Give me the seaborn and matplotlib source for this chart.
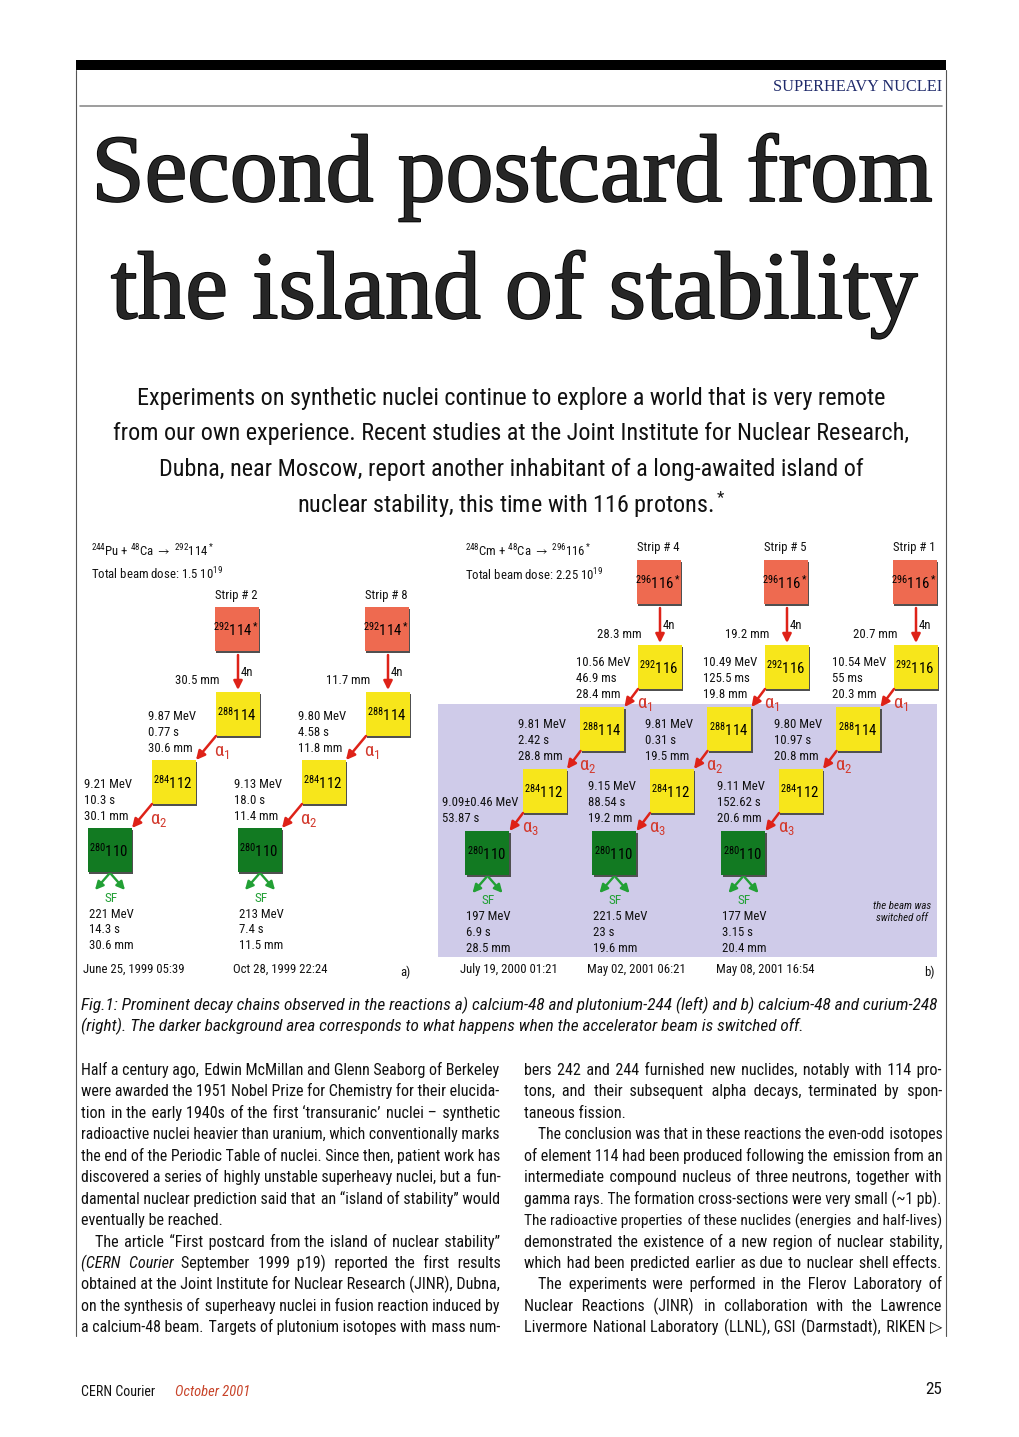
import numpy as np
import pandas as pd
import matplotlib
matplotlib.use('Agg')
import matplotlib.pyplot as plt
import matplotlib.patheffects as pe
from matplotlib.patches import Rectangle
from matplotlib import font_manager
from matplotlib.ft2font import FT2Font
import seaborn as sns

# ---------------- page text ----------------
section = 'SUPERHEAVY NUCLEI'
title = ['Second postcard from', 'the island of stability']
standfirst = [
    'Experiments on synthetic nuclei continue to explore a world that is very remote',
    'from our own experience. Recent studies at the Joint Institute for Nuclear Research,',
    'Dubna, near Moscow, report another inhabitant of a long-awaited island of',
    'nuclear stability, this time with 116 protons.$^*$',
]
caption = [
    'Fig.1: Prominent decay chains observed in the reactions a) calcium-48 and plutonium-244 (left) and b) calcium-48 and curium-248',
    '(right). The darker background area corresponds to what happens when the accelerator beam is switched off.',
]
# (line, mode): j = justified, l = left, i = indented first line; "_" marks italic words
left_col = [
    ('Half a century ago, Edwin McMillan and Glenn Seaborg of Berkeley', 'j'),
    ('were awarded the 1951 Nobel Prize for Chemistry for their elucida-', 'j'),
    ('tion in the early 1940s of the first ‘transuranic’ nuclei – synthetic', 'j'),
    ('radioactive nuclei heavier than uranium, which conventionally marks', 'j'),
    ('the end of the Periodic Table of nuclei. Since then, patient work has', 'j'),
    ('discovered a series of highly unstable superheavy nuclei, but a fun-', 'j'),
    ('damental nuclear prediction said that an “island of stability” would', 'j'),
    ('eventually be reached.', 'l'),
    ('The article “First postcard from the island of nuclear stability”', 'ij'),
    ('_(CERN _Courier September 1999 p19) reported the first results', 'j'),
    ('obtained at the Joint Institute for Nuclear Research (JINR), Dubna,', 'j'),
    ('on the synthesis of superheavy nuclei in fusion reaction induced by', 'j'),
    ('a calcium-48 beam. Targets of plutonium isotopes with mass num-', 'j'),
]
right_col = [
    ('bers 242 and 244 furnished new nuclides, notably with 114 pro-', 'j'),
    ('tons, and their subsequent alpha decays, terminated by spon-', 'j'),
    ('taneous fission.', 'l'),
    ('The conclusion was that in these reactions the even-odd isotopes', 'ij'),
    ('of element 114 had been produced following the emission from an', 'j'),
    ('intermediate compound nucleus of three neutrons, together with', 'j'),
    ('gamma rays. The formation cross-sections were very small (~1 pb).', 'j'),
    ('The radioactive properties of these nuclides (energies and half-lives)', 'j'),
    ('demonstrated the existence of a new region of nuclear stability,', 'j'),
    ('which had been predicted earlier as due to nuclear shell effects.', 'j'),
    ('The experiments were performed in the Flerov Laboratory of', 'ij'),
    ('Nuclear Reactions (JINR) in collaboration with the Lawrence', 'j'),
    ('Livermore National Laboratory (LLNL), GSI (Darmstadt), RIKEN ▷', 'j'),
]
footer_left = 'CERN Courier'
footer_date = 'October 2001'
page_no = '25'

# ---------------- decay chain data ----------------
a_reaction = r'$^{244}$Pu + $^{48}$Ca $\rightarrow$ $^{292}$114$^*$'
a_dose = r'Total beam dose: 1.5 10$^{19}$'
a_strips = ['Strip # 2', 'Strip # 8']
a_nuclides = [r'$^{292}$114$^*$', r'$^{288}$114', r'$^{284}$112', r'$^{280}$110']
a_4n = ['30.5 mm', '11.7 mm']
a_alpha = [
    [('9.87 MeV', '0.77 s', '30.6 mm'), ('9.21 MeV', '10.3 s', '30.1 mm')],
    [('9.80 MeV', '4.58 s', '11.8 mm'), ('9.13 MeV', '18.0 s', '11.4 mm')],
]
a_sf = [('221 MeV', '14.3 s', '30.6 mm'), ('213 MeV', '7.4 s', '11.5 mm')]
a_dates = ['June 25, 1999 05:39', 'Oct 28, 1999 22:24']

b_reaction = r'$^{248}$Cm + $^{48}$Ca $\rightarrow$ $^{296}$116$^*$'
b_dose = r'Total beam dose: 2.25 10$^{19}$'
b_strips = ['Strip # 4', 'Strip # 5', 'Strip # 1']
b_nuclides = [r'$^{296}$116$^*$', r'$^{292}$116', r'$^{288}$114', r'$^{284}$112', r'$^{280}$110']
b_4n = ['28.3 mm', '19.2 mm', '20.7 mm']
b_alpha = [
    [('10.56 MeV', '46.9 ms', '28.4 mm'), ('9.81 MeV', '2.42 s', '28.8 mm'), ('9.09±0.46 MeV', '53.87 s', None)],
    [('10.49 MeV', '125.5 ms', '19.8 mm'), ('9.81 MeV', '0.31 s', '19.5 mm'), ('9.15 MeV', '88.54 s', '19.2 mm')],
    [('10.54 MeV', '55 ms', '20.3 mm'), ('9.80 MeV', '10.97 s', '20.8 mm'), ('9.11 MeV', '152.62 s', '20.6 mm')],
]
b_sf = [('197 MeV', '6.9 s', '28.5 mm'), ('221.5 MeV', '23 s', '19.6 mm'), ('177 MeV', '3.15 s', '20.4 mm')]
b_dates = ['July 19, 2000 01:21', 'May 02, 2001 06:21', 'May 08, 2001 16:54']

# ---------------- style ----------------
sns.set_theme(style='white')
installed = {f.name for f in font_manager.fontManager.ttflist}


def pick(*names):
    for n in names:
        if n in installed:
            return n
    return 'DejaVu Sans'


SANS = pick('Liberation Sans Narrow', 'Roboto Condensed', 'DejaVu Sans Condensed', 'Liberation Sans')
SERIF = pick('Liberation Serif', 'DejaVu Serif')
plt.rcParams['font.family'] = SANS
plt.rcParams['mathtext.fontset'] = 'custom'
plt.rcParams['mathtext.rm'] = SANS
plt.rcParams['mathtext.it'] = SANS + ':italic'
plt.rcParams['mathtext.bf'] = SANS + ':bold'
plt.rcParams['mathtext.fallback'] = 'stixsans'
sans_chars = set(chr(c) for c in FT2Font(font_manager.findfont(SANS)).get_charmap())
THIN, HAIR = '\u2009', '\u200a'

RED, YEL, GRN = '#ee6a50', '#f7e61b', '#127a22'
ARROW_RED, ARROW_GRN, ALPHA_RED = '#de2218', '#22a035', '#d33b2f'
INK = '#111111'

fig = plt.figure(figsize=(10.2, 14.37), dpi=100)
ax = fig.add_axes([0, 0, 1, 1])
ax.set_xlim(0, 1020)
ax.set_ylim(1437, 0)
R = fig.canvas.get_renderer()


def fam(s):
    # fall back to DejaVu Sans only for words with glyphs the condensed face lacks
    return SANS if all(ch in sans_chars for ch in s) else 'DejaVu Sans'


def tw(s, size, **kw):
    t = ax.text(0, 0, s, fontsize=size, **kw)
    w = t.get_window_extent(renderer=R).width
    t.remove()
    return w


def adv(s, size, **kw):
    # advance width, free of side bearings
    return tw('|' + s + '|', size, **kw) - tw('||', size, **kw)


def fit(s, target, **kw):
    return 20 * target / tw(s, 20, **kw)


# ---------------- masthead ----------------
ax.add_patch(Rectangle((76, 60), 870, 10, color='black', lw=0))
ax.plot([76, 76], [70, 1336], color='#555555', lw=0.8)
ax.plot([946, 946], [70, 1336], color='#555555', lw=0.8)
ax.plot([80, 942], [106, 106], color='#8c8c8c', lw=1.2)
ax.text(942, 87, section, family=SERIF, color='#1f2a6b', ha='right', va='center',
        fontsize=fit(section, 169, family=SERIF))

ts = fit(title[0], 840, family=SERIF)
stroke = [pe.withStroke(linewidth=1.3, foreground='black')]
ax.text(512, 201, title[0], family=SERIF, fontsize=ts, ha='center', va='baseline', path_effects=stroke)
ax.text(514, 318, title[1], family=SERIF, fontsize=ts, ha='center', va='baseline', path_effects=stroke)

ss = fit(standfirst[1], 793)
for i, line in enumerate(standfirst):
    ax.text(511.5, 398 + 35.7 * i, line, fontsize=ss, ha='center', va='center', color=INK)

# ---------------- figure ----------------
D = fit('9.87 MeV', 48)
BOX = (44 * 72 / 100) ** 2
DROP = 85

ax.add_patch(Rectangle((438, 704), 499, 253, color='#cfcbe9', lw=0, zorder=0))


def arrow(p0, p1, color, lw=1.8, ms=13):
    ax.annotate('', xy=p1, xytext=p0,
                arrowprops=dict(arrowstyle='-|>', color=color, lw=lw, mutation_scale=ms,
                                shrinkA=0, shrinkB=0), zorder=5)


def panel(tag, nuclides, x0s, y0, dx, dy, strips, n4, alphas, sfs, dates,
          xoff, bottom, lsp, lab):
    nodes = []
    for c, x0 in enumerate(x0s):
        xs, ys = [x0, x0 + 1], [y0, y0 + DROP]
        for _ in alphas[c]:
            xs.append(xs[-1] + dx)
            ys.append(ys[-1] + dy)
        last = len(xs) - 1
        for k, (x, y) in enumerate(zip(xs, ys)):
            kind = 'compound' if k == 0 else ('fission' if k == last else 'alpha')
            nodes.append(dict(panel=tag, chain=c, step=k, x=x, y=y, kind=kind, label=nuclides[k]))

        # strip label and 4n emission
        ax.text(xs[0] - 1, ys[0] - 34, strips[c], fontsize=D, ha='center', va='center', color=INK)
        arrow((xs[1], ys[0] + 26), (xs[1], ys[1] - 24), ARROW_RED)
        ax.text(xs[1] + 3, (ys[0] + ys[1]) / 2 + 1, '4n', fontsize=D, ha='left', va='center', color=INK)
        ax.text(xs[1] - 18, ys[1] - 33, n4[c], fontsize=D, ha='right', va='center', color=INK)

        # alpha decays
        for j, vals in enumerate(alphas[c]):
            cx, cy = xs[j + 1], ys[j + 1]
            lines = [v for v in vals if v]
            w = max(tw(v, D) for v in lines)
            lx = min(cx + xoff, cx - 27 - w)
            n = len(lines)
            for i, v in enumerate(lines):
                ax.text(lx, cy + bottom - lsp * (n - 1 - i), v, fontsize=D, ha='left', va='center',
                        color=INK, family=fam(v))
            arrow((cx - 22, cy + 22), (cx + dx + 22, cy + dy - 22), ARROW_RED)
            ax.text(cx + lab[0], cy + lab[1], r'$\mathrm{\alpha}_{%d}$' % (j + 1), fontsize=D * 1.45,
                    color=ALPHA_RED, ha='left', va='center')

        # spontaneous fission
        gx, gy = xs[-1], ys[-1]
        arrow((gx - 1, gy + 24), (gx - 15, gy + 40), ARROW_GRN, lw=1.7, ms=12)
        arrow((gx + 1, gy + 24), (gx + 15, gy + 40), ARROW_GRN, lw=1.7, ms=12)
        ax.text(gx + 1, gy + 48, 'SF', fontsize=D * 1.05, color=ARROW_GRN, ha='center', va='center')
        for i, v in enumerate(sfs[c]):
            ax.text(gx - 21, gy + 64 + 15.8 * i, v, fontsize=D, ha='left', va='center', color=INK)
        ax.text(gx - 27, 969, dates[c], fontsize=D, ha='left', va='center', color=INK)
    return nodes


nodes = panel('a', a_nuclides, [237, 387], 629, -64, 68, a_strips, a_4n, a_alpha, a_sf, a_dates,
              xoff=-90, bottom=35, lsp=16, lab=(-24, 38))
nodes += panel('b', b_nuclides, [659, 786, 915], 582, -57.5, 62, b_strips, b_4n, b_alpha, b_sf, b_dates,
               xoff=-84, bottom=27, lsp=15.5, lab=(-23, 37))
df = pd.DataFrame(nodes)

palette = {'compound': RED, 'alpha': YEL, 'fission': GRN}
shadow = df.assign(x=df['x'] + 1.5, y=df['y'] + 1.5)
sns.scatterplot(data=shadow, x='x', y='y', color='#505050', marker='s', s=BOX, linewidth=0,
                legend=False, ax=ax, zorder=3)
sns.scatterplot(data=df, x='x', y='y', hue='kind', palette=palette, marker='s', s=BOX, linewidth=0,
                legend=False, ax=ax, zorder=4)
for _, r in df.iterrows():
    ax.text(r['x'] - 1, r['y'] + 1, r['label'], fontsize=D * 1.16, ha='center', va='center',
            color='black', zorder=6)

ax.text(91, 551, a_reaction, fontsize=D, ha='left', va='center', color=INK)
ax.text(91, 574, a_dose, fontsize=D, ha='left', va='center', color=INK)
ax.text(465, 551, b_reaction, fontsize=D, ha='left', va='center', color=INK)
ax.text(465, 575, b_dose, fontsize=D, ha='left', va='center', color=INK)
ax.text(902, 912, 'the beam was\nswitched off', fontsize=D * 0.85, style='italic', ha='center',
        va='center', color=INK, linespacing=1.2)
ax.text(405, 972, 'a)', fontsize=D, ha='center', va='center', color=INK)
ax.text(929, 972, 'b)', fontsize=D, ha='center', va='center', color=INK)

# ---------------- caption ----------------
cs = fit(caption[0], 855, style='italic')
for i, line in enumerate(caption):
    ax.text(81, 1005 + 21 * i, line, fontsize=cs, style='italic', ha='left', va='center', color=INK)


# ---------------- body columns ----------------
def words_of(line):
    return [(w.lstrip('_'), 'italic' if w.startswith('_') else 'normal') for w in line.split(' ')]


def spaces(size):
    sp = adv(' ', size)
    th = adv(THIN, size) if THIN in sans_chars else 0
    hs = adv(HAIR, size) if HAIR in sans_chars else 0
    return sp, th, hs


def filler(gw, sp, th, hs):
    # a normal word space, topped up with thin and hair spaces to reach width gw
    if not th and not hs:
        k = max(1, int(round(gw / sp)))
        return ' ' * k, k * sp
    s, w = ' ', sp
    if th:
        k = max(0, int((gw - w) // th))
        s += THIN * k
        w += k * th
    if hs:
        k = max(0, int(round((gw - w) / hs)))
        s += HAIR * k
        w += k * hs
    return s, w


def natural(lines, size):
    sp = adv(' ', size)
    res = []
    for line, mode in lines:
        ws = words_of(line)
        res.append(sum(adv(w, size, style=s, family=fam(w)) for w, s in ws) + sp * (len(ws) - 1)
                   + (14 if 'i' in mode else 0))
    return res


def set_column(lines, x0, x1, y0, lh, size):
    for i, (line, mode) in enumerate(lines):
        y = y0 + i * lh
        xs = x0 + (14 if 'i' in mode else 0)
        ws = words_of(line)
        n = len(ws)
        fs = size
        sp, th, hs = spaces(fs)
        wd = [adv(w, fs, style=s, family=fam(w)) for w, s in ws]
        if 'j' in mode and n > 1:
            g = (x1 - xs - sum(wd)) / (n - 1)
            for _ in range(3):
                if g >= sp:
                    break
                fs *= (x1 - xs - sp * (n - 1)) / sum(wd)
                sp, th, hs = spaces(fs)
                wd = [adv(w, fs, style=s, family=fam(w)) for w, s in ws]
                g = (x1 - xs - sum(wd)) / (n - 1)
        else:
            g = sp
        # join runs of words sharing a face into one text, spacing with space characters
        key = (ws[0][1], fam(ws[0][0]))
        text, seg_x, pos = ws[0][0], xs, xs + wd[0]
        segs = []
        for k in range(1, n):
            ideal = xs + sum(wd[:k]) + k * g
            kk = (ws[k][1], fam(ws[k][0]))
            if kk == key:
                f, fw = filler(ideal - pos, sp, th, hs)
                text += f + ws[k][0]
                pos += fw + wd[k]
            else:
                segs.append((key, text, seg_x))
                key, text, seg_x, pos = kk, ws[k][0], ideal, ideal + wd[k]
        segs.append((key, text, seg_x))
        for (style, family), t, sx in segs:
            ax.text(sx, y, t, fontsize=fs, style=style, family=family, ha='left', va='baseline', color=INK)


ratios = []
for col, (x0, x1) in ((left_col, (81, 500)), (right_col, (524, 942))):
    nat = natural(col, 12)
    ratios += [(x1 - x0) / n for n, (_, m) in zip(nat, col) if 'j' in m]
bs = 12 * float(np.quantile(ratios, 0.5))
set_column(left_col, 81, 500, 1075, 21.45, bs)
set_column(right_col, 524, 942, 1075, 21.45, bs)

# ---------------- footer ----------------
ax.text(81, 1392, footer_left, fontsize=fit(footer_left, 74), ha='left', va='center', color=INK)
ax.text(175, 1392, footer_date, fontsize=fit(footer_date, 75, style='italic'), style='italic',
        ha='left', va='center', color='#c8442a')
ax.text(942, 1390, page_no, fontsize=fit(page_no, 17), ha='right', va='center', color=INK)

ax.set_xlim(0, 1020)
ax.set_ylim(1437, 0)
ax.axis('off')
fig.savefig('out.png', dpi=100, facecolor='white')
